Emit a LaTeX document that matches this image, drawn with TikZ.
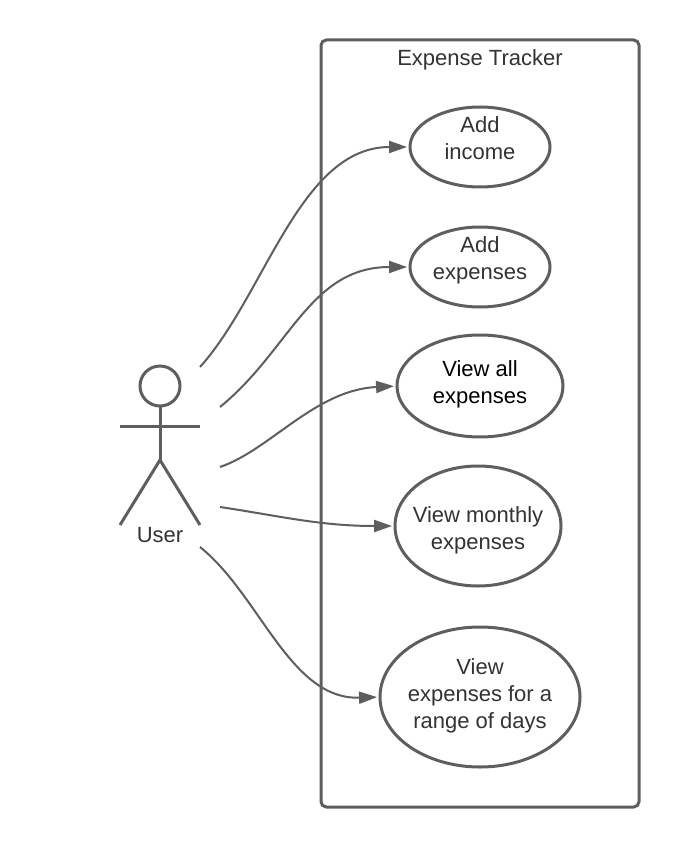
\documentclass[tikz,border=0pt]{standalone}
\usepackage{fontspec}
\setmainfont{Liberation Sans}
\usetikzlibrary{arrows.meta,shapes.geometric}
\definecolor{ln}{HTML}{5E5E5E}
\definecolor{tx}{HTML}{333333}
\newcommand{\lifted}[2]{\makebox[0pt]{\smash{\raisebox{#1}{\begin{tabular}{@{}c@{}}#2\end{tabular}}}}}
\tikzset{
  px/.style={x=0.75pt,y=-0.75pt},
  lab/.style={text=tx,font=\fontsize{16.5pt}{20.25pt}\selectfont,inner sep=0pt},
  usecase/.style={ellipse,draw=ln,line width=2.25pt,fill=white,lab,inner sep=0pt,outer sep=0pt},
  frame/.style={draw=ln,line width=2.25pt,rounded corners=4pt,outer sep=0pt},
  stick/.style={draw=ln,line width=2.25pt},
  link/.style={draw=ln,line width=1.5pt,shorten >=2.2pt,-{Triangle[length=13.5pt,width=9pt]}},
}
\begin{document}
\begin{tikzpicture}[px]
\useasboundingbox (0,0) rectangle (680,848);
\fill[white] (0,0) rectangle (680,848);
\node[frame,minimum width=238.5pt,minimum height=575.25pt,anchor=north west] (sys) at (321,40) {};
\node[lab] (title) at (480,60) {Expense Tracker};
\node[usecase,minimum width=105pt,minimum height=60pt] (e1) at (480,147) {\lifted{0.75pt}{Add\\income}};
\node[usecase,minimum width=105pt,minimum height=60pt] (e2) at (480,267) {\lifted{0.75pt}{Add\\expenses}};
\node[usecase,text=black,minimum width=124.5pt,minimum height=76.5pt] (e3) at (480,386) {\lifted{-3.25pt}{View all\\expenses}};
\node[usecase,minimum width=124.5pt,minimum height=90pt] (e4) at (478,526) {\lifted{-7.5pt}{View monthly\\expenses}};
\node[usecase,minimum width=150pt,minimum height=105pt] (e5) at (480,697) {\lifted{-4pt}{View\\expenses for a\\range of days}};
% actor
\node[circle,stick,minimum size=30pt,inner sep=0pt,outer sep=0pt] (head) at (160,386) {};
\coordinate (hip) at (160,460);
\coordinate (armL) at (120,426);
\coordinate (armR) at (200,426);
\coordinate (footL) at (120,525);
\coordinate (footR) at (200,525);
\draw[stick] (head.south) -- (hip);
\draw[stick] (armL) -- (armR);
\draw[stick] (footL) -- (hip) -- (footR);
\node[lab] (user) at (160,535) {User};
% connectors
\coordinate (u1) at (200,367);
\coordinate (u2) at (220,407);
\coordinate (u3) at (220,467);
\coordinate (u4) at (220,507);
\coordinate (u5) at (200,547);
\draw[link] (u1) .. controls (265,295) and (300,147) .. (e1.west);
\draw[link] (u2) .. controls (290,350) and (310,267) .. (e2.west);
\draw[link] (u3) .. controls (270,450) and (315,390) .. (e3.west);
\draw[link] (u4) .. controls (280,516) and (320,526) .. (e4.west);
\draw[link] (u5) .. controls (260,595) and (290,700) .. (e5.west);
\end{tikzpicture}
\end{document}
